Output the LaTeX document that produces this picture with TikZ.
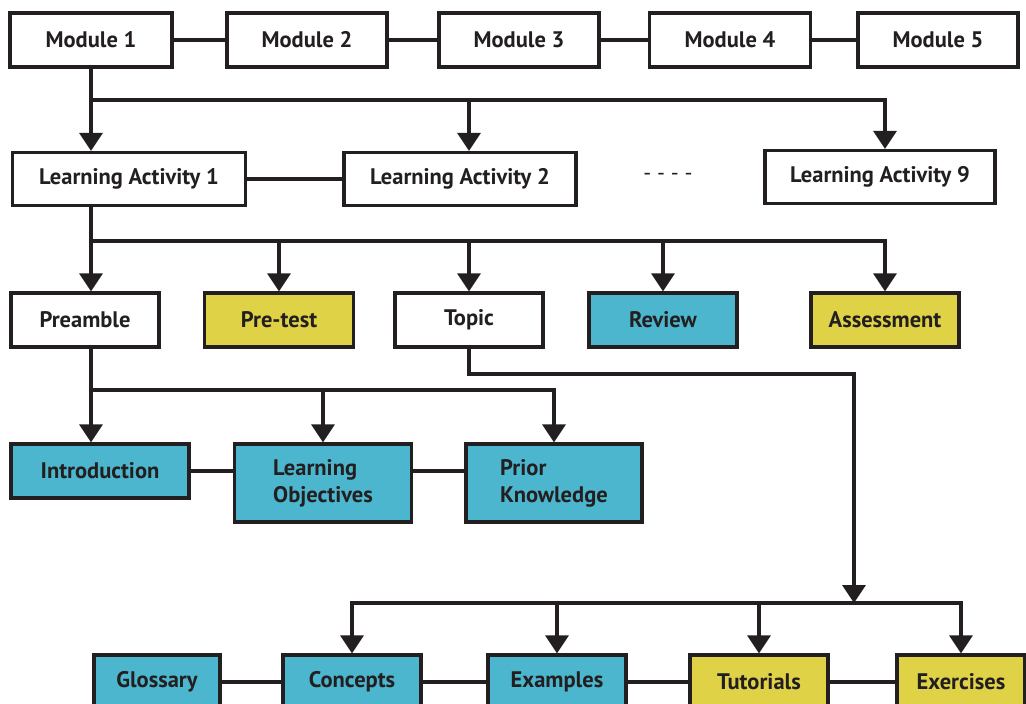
\documentclass[tikz,border=0pt]{standalone}
\usepackage{fontspec}
\setmainfont{PT Sans}
\usetikzlibrary{arrows.meta, positioning, calc}
\definecolor{ink}{HTML}{231F20}
\definecolor{cyanfill}{HTML}{4BB6CE}
\definecolor{yellowfill}{HTML}{E0D246}

\begin{document}
\begin{tikzpicture}[x=1pt, y=-1pt,
    every node/.style={font=\fontsize{22.5}{27}\selectfont\bfseries, text=ink},
    box/.style={draw=ink, line width=3.2pt, fill=white, minimum height=54pt, inner sep=0pt},
    bluebox/.style={box, fill=cyanfill},
    yellowbox/.style={box, fill=yellowfill},
    link/.style={draw=ink, line width=3.2pt},
    >={Triangle[width=23pt, length=18pt]}]
    \fill[white] (0,0) rectangle (1026,704);
    \path[use as bounding box] (0,0) rectangle (1026,704);
    \clip (0,0) rectangle (1026,704);
    % modules
    \node[box, minimum width=162pt] (m1) at (91,40) {Module 1};
    \node[box, minimum width=160pt] (m2) at (307,40) {Module 2};
    \node[box, minimum width=160pt] (m3) at (519,40) {Module 3};
    \node[box, minimum width=161pt] (m4) at (730,40) {Module 4};
    \node[box, minimum width=160pt] (m5) at (938,40) {Module 5};
    % learning activities
    \node[box, minimum width=233pt, minimum height=53pt] (la1) at (129,179) {Learning Activity 1};
    \node[box, minimum width=232pt, minimum height=53pt] (la2) at (460,179) {Learning Activity 2};
    \node[font=\fontsize{22}{27}\selectfont] (dots) at (668,177) {- - - -};
    \node[box, minimum width=230pt, minimum height=53pt] (la9) at (880,177) {Learning Activity 9};
    % parts of an activity
    \node[box, minimum width=148pt] (pre) at (85,320) {Preamble};
    \node[yellowbox, minimum width=149pt] (pt) at (279,320) {Pre-test};
    \node[box, minimum width=148pt] (top) at (469,320) {Topic};
    \node[bluebox, minimum width=148pt] (rev) at (663,320) {Review};
    \node[yellowbox, minimum width=148pt] (ass) at (885,320) {Assessment};
    % preamble
    \node[bluebox, minimum width=178pt] (intro) at (100,471) {Introduction};
    \node[bluebox, minimum width=177pt, minimum height=78pt, align=left] (lo) at (323,483) {Learning\\Objectives};
    \node[bluebox, minimum width=176pt, minimum height=78pt, align=left] (pk) at (554,483) {Prior\\Knowledge};
    % topic
    \node[bluebox, minimum width=126pt] (glo) at (157,682) {Glossary};
    \node[bluebox, minimum width=138pt] (con) at (352,682) {Concepts};
    \node[bluebox, minimum width=138pt] (exa) at (557,682) {Examples};
    \node[yellowbox, minimum width=138pt] (tut) at (759,682) {Tutorials};
    \node[yellowbox, minimum width=128pt] (exe) at (961,682) {Exercises};

    \coordinate (j1) at (91,100);
    \coordinate (j2) at (91,241);
    \coordinate (j3) at (91,390);
    \coordinate (turn) at (854,374);
    \coordinate (hub) at (854,603);

    \draw[link] (m1) -- (m2) -- (m3) -- (m4) -- (m5);
    \draw[link] (la1) -- (la2);
    \draw[link] (intro.east) -- (intro.east -| lo.west);
    \draw[link] (intro.east -| lo.east) -- (intro.east -| pk.west);
    \draw[link] (glo) -- (con) -- (exa) -- (tut) -- (exe);

    \draw[link, ->] (m1) -- (la1.north -| m1);
    \draw[link, ->] (j1) -| (la2.north -| top);
    \draw[link, ->] (j1) -| (la9.north -| ass);
    \draw[link, ->] (la1.south -| m1) -- (pre.north -| m1);
    \draw[link, ->] (j2) -| (pt);
    \draw[link, ->] (j2) -| (top);
    \draw[link, ->] (j2) -| (rev);
    \draw[link, ->] (j2) -| (ass);
    \draw[link, ->] (pre.south -| m1) -- (intro.north -| m1);
    \draw[link, ->] (j3) -| (lo);
    \draw[link, ->] (j3) -| (pk);
    \draw[link, ->] (top) |- (turn) -- (hub);
    \draw[link, ->] (hub) -| (con);
    \draw[link, ->] (hub) -| (exa);
    \draw[link, ->] (hub) -| (tut);
    \draw[link, ->] (hub) -| (exe);
\end{tikzpicture}
\end{document}
